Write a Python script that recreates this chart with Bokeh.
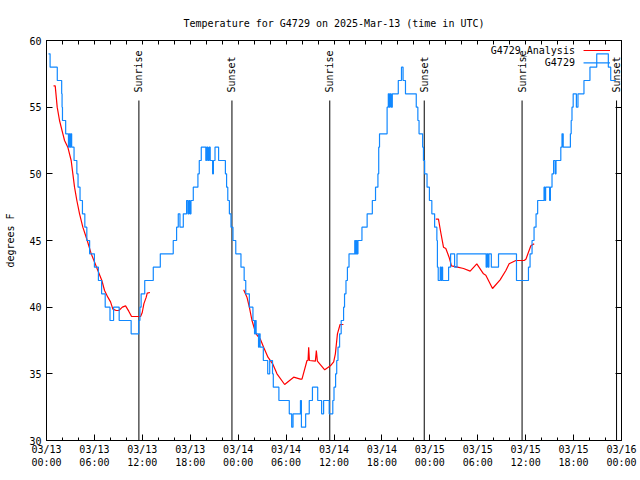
import math
from bokeh.plotting import figure
from bokeh.models import Range1d, FixedTicker, LinearAxis
from bokeh.core.properties import value
from bokeh.embed import file_html
from bokeh.resources import INLINE

TITLE = "Temperature for G4729 on 2025-Mar-13 (time in UTC)"
Y_LABEL = "degrees F"
OBS_NAME = "G4729"
ANA_NAME = "G4729_Analysis"

# x axis: hours since 2025-03-13 00:00 UTC
x_major = [0, 6, 12, 18, 24, 30, 36, 42, 48, 54, 60, 66, 72]
x_labels = ["03/13\n00:00", "03/13\n06:00", "03/13\n12:00", "03/13\n18:00",
            "03/14\n00:00", "03/14\n06:00", "03/14\n12:00", "03/14\n18:00",
            "03/15\n00:00", "03/15\n06:00", "03/15\n12:00", "03/15\n18:00",
            "03/16\n00:00"]
x_minor = [h for h in range(0, 73, 2) if h % 6 != 0]
y_ticks = [30, 35, 40, 45, 50, 55, 60]

sun_names = ["Sunrise", "Sunset", "Sunrise", "Sunset", "Sunrise", "Sunset"]
sun_hours = [11.57, 23.22, 35.47, 47.30, 59.55, 71.38]

# observed temperatures (hour, deg F), value holds until next point
obs_t = [0.25, 0.45, 1.35, 1.9, 1.95, 2.0, 2.4, 2.75, 2.85, 2.95, 3.05, 3.15, 3.45, 3.8, 3.95,
         4.2, 4.5, 4.8, 5.05, 5.4, 6.0, 6.5, 6.9, 7.35, 7.95, 8.4, 9.1, 10.6, 11.55, 11.7,
         11.85, 12.3, 13.37, 14.25, 15.87, 16.29, 16.5, 16.71, 17.13, 17.54, 17.71, 17.84,
         17.96, 18.09, 18.38, 18.96, 19.13, 19.38, 19.95, 20.05, 20.2, 20.35, 20.5, 20.8,
         20.9, 21.1, 21.55, 22.4, 22.55, 22.7, 22.9, 23.1, 23.35, 23.7, 24.35, 24.75, 24.95,
         25.4, 25.85, 26.05, 26.15, 26.25, 26.55, 26.65, 26.75, 27.15, 27.7, 27.95, 28.3,
         28.4, 29.1, 30.4, 30.7, 30.87, 31.8, 31.92, 32.45, 32.9, 33.3, 33.96, 34.45, 34.7,
         35.4, 35.85, 36.0, 36.2, 36.34, 36.5, 36.7, 36.9, 37.2, 37.32, 37.5, 37.68, 37.88,
         38.6, 38.7, 38.8, 38.9, 39.0, 39.5, 40.15, 40.8, 41.2, 41.5, 41.6, 41.7, 42.65,
         42.8, 42.9, 43.0, 43.15, 43.3, 44.05, 44.45, 44.65, 44.95, 46.3, 46.5, 46.65, 47.1,
         47.2, 47.35, 47.65, 47.95, 48.25, 48.6, 48.88, 48.95, 49.05, 49.3, 49.4, 49.5,
         49.6, 50.35, 50.6, 51.1, 51.4, 55.05, 55.15, 55.3, 55.4, 55.7, 56.6, 58.85, 60.35,
         60.55, 60.8, 61.05, 61.3, 61.5, 62.3, 62.4, 62.5, 63.0, 63.1, 63.3, 63.5, 63.7,
         63.8, 64.4, 64.55, 64.7, 65.6, 65.7, 65.8, 65.95, 66.35, 66.55, 67.3, 68.05, 68.9,
         70.35, 70.65, 71.3]
obs_v = [59, 58, 57, 56, 55, 54, 53, 52, 53, 52, 53, 52, 51, 50, 49,
         48, 47, 46, 45, 44, 43, 42, 41, 40, 39, 40, 39, 38, 39, 40,
         41, 42, 43, 44, 45, 46, 47, 46, 47, 48, 47, 48,
         47, 48, 49, 50, 51, 52, 51, 52, 51, 52, 51, 50,
         51, 52, 51, 50, 49, 48, 47, 46, 45, 44, 43, 42, 41,
         40, 39, 38, 39, 38, 37, 38, 37, 36, 35, 36, 35,
         34, 33, 32, 31, 32, 33, 31, 32, 33, 34, 33, 32, 33,
         32, 33, 34, 35, 36, 37, 38, 39, 40, 41, 42, 43, 44,
         45, 44, 45, 44, 45, 46, 47, 48, 49, 50, 52, 53, 55,
         56, 55, 56, 55, 56, 57, 58, 57, 56, 55, 54, 53, 52,
         51, 50, 49, 48, 47, 46, 45, 43, 42, 43, 42, 43,
         42, 43, 44, 43, 44, 43, 44, 43, 44, 43, 44, 42, 43,
         44, 45, 46, 47, 48, 49, 48, 49, 48, 49, 50, 51, 50,
         51, 52, 53, 52, 53, 54, 55, 56, 55, 56, 57, 58, 59,
         58, 57, 57]

# analysis temperatures, three overnight runs (hour, deg F)
ana1_t = [0.88, 1.09, 1.34, 1.63, 2.05, 2.26, 2.67, 3.09, 3.3, 3.51, 3.8, 4.14, 4.55, 5.1,
          5.6, 6.0, 6.43, 6.93, 7.27, 7.68, 8.02, 8.31, 8.73, 9.06, 9.5, 9.9, 10.3, 10.65,
          11.78, 11.99, 12.19, 12.49, 12.61, 12.95]
ana1_v = [56.6, 56.6, 55.0, 54.0, 53.0, 52.5, 52.0, 51.0, 50.0, 49.0, 48.0, 47.0, 46.0, 45.0,
          44.0, 43.4, 42.75, 42.0, 41.25, 40.75, 40.4, 39.85, 39.75, 39.75, 40.0, 40.1, 39.7, 39.3,
          39.3, 39.6, 40.25, 40.75, 41.05, 41.1]
ana2_t = [24.69, 25.1, 25.4, 25.73, 26.23, 26.78, 27.19, 27.73, 28.32, 28.86, 29.82, 30.95,
          31.79, 31.99, 32.62, 32.75, 32.83, 32.92, 33.67, 33.79, 33.92, 34.84, 35.55, 35.96,
          36.17, 36.43, 36.76, 37.18]
ana2_v = [41.3, 40.75, 40.0, 39.0, 38.0, 37.6, 37.0, 36.25, 35.75, 35.0, 34.2, 34.75,
          34.6, 34.6, 36.0, 36.0, 37.0, 36.0, 35.95, 36.75, 35.95, 35.3, 35.6, 35.9,
          36.5, 38.0, 38.7, 38.7]
ana3_t = [48.75, 49.08, 49.37, 49.71, 50.0, 50.41, 50.71, 51.47, 52.22, 53.05, 53.88, 54.72,
          55.01, 55.85, 56.8, 57.52, 57.93, 58.77, 59.81, 60.03, 60.65, 61.07]
ana3_v = [46.6, 46.6, 45.6, 44.5, 44.4, 43.75, 43.1, 43.0, 42.9, 42.7, 43.25, 42.5,
          42.4, 41.4, 42.05, 42.75, 43.25, 43.5, 43.5, 43.6, 44.6, 44.75]

XMIN, XMAX = 0, 72
YMIN, YMAX = 30, 60
FONT = "DejaVu Sans Mono"
FS = "10px"
BLUE = "#1188ff"
RED = "#ff0000"


def gx(f):
    return XMIN + f * (XMAX - XMIN)


def gy(f):
    return YMIN + f * (YMAX - YMIN)


p = figure(width=640, height=480, x_range=Range1d(XMIN, XMAX), y_range=Range1d(YMIN, YMAX),
           output_backend="svg", toolbar_location=None, title=TITLE,
           min_border_left=46, min_border_right=19, min_border_top=40, min_border_bottom=40)
p.background_fill_color = "white"
p.border_fill_color = "white"
p.outline_line_color = "black"
p.xgrid.visible = False
p.ygrid.visible = False

p.title.text_font = FONT
p.title.text_font_size = FS
p.title.text_font_style = "normal"
p.title.align = "center"
p.title.text_color = "black"
p.title.standoff = 23

xt = FixedTicker(ticks=x_major, minor_ticks=x_minor)
yt = FixedTicker(ticks=y_ticks, minor_ticks=[])

xa = p.xaxis[0]
xa.ticker = xt
xa.major_label_overrides = {k: v for k, v in zip(x_major, x_labels)}
xa.major_label_text_font = FONT
xa.major_label_text_font_size = FS
xa.major_label_text_line_height = 1.25
xa.major_label_standoff = 3

ya = p.yaxis[0]
ya.ticker = yt
ya.major_label_text_font = FONT
ya.major_label_text_font_size = FS
ya.major_label_standoff = 5
ya.axis_label = Y_LABEL
ya.axis_label_text_font = FONT
ya.axis_label_text_font_size = FS
ya.axis_label_text_font_style = "normal"
ya.axis_label_standoff = 10

# mirrored tick marks on top and right (no labels: only minor-tick slots used)
top_ax = LinearAxis(ticker=FixedTicker(ticks=[], minor_ticks=x_major + x_minor))
right_ax = LinearAxis(ticker=FixedTicker(ticks=[], minor_ticks=y_ticks))
p.add_layout(top_ax, "above")
p.add_layout(right_ax, "right")

for ax in [xa, ya, top_ax, right_ax]:
    ax.axis_line_color = "black"
    ax.major_tick_line_color = "black"
    ax.minor_tick_line_color = "black"
    ax.major_label_text_color = "black"
    ax.axis_label_text_color = "black"
    ax.major_tick_in = 6
    ax.major_tick_out = 0
    ax.minor_tick_in = 3
    ax.minor_tick_out = 0
top_ax.minor_tick_in = 4
right_ax.minor_tick_in = 6

# sunrise / sunset markers
p.segment(x0=sun_hours, y0=[gy(0.0)] * len(sun_hours), x1=sun_hours,
          y1=[gy(0.85)] * len(sun_hours), line_color="black", line_width=1)
p.text(x=sun_hours, y=[gy(0.87)] * len(sun_hours), text=sun_names, angle=math.pi / 2,
       text_font=value(FONT), text_font_size=FS, text_align="left",
       text_baseline="middle", text_color="black")

# analysis first, observations over it
p.multi_line(xs=[ana1_t, ana2_t, ana3_t], ys=[ana1_v, ana2_v, ana3_v],
             line_color=RED, line_width=1.2)
p.step(x=obs_t, y=obs_v, mode="after", line_color=BLUE, line_width=1.2)

# key (top right, text then sample line)
p.text(x=[gx(0.919)] * 2, y=[gy(0.975), gy(0.944)], text=[ANA_NAME, OBS_NAME],
       text_font=value(FONT), text_font_size=FS, text_align="right",
       text_baseline="middle", text_color="black")
p.segment(x0=[gx(0.934)] * 2, y0=[gy(0.975), gy(0.944)], x1=[gx(0.980)] * 2,
          y1=[gy(0.975), gy(0.944)], line_color=[RED, BLUE], line_width=1.2)

open("out.html", "w").write(file_html(p, INLINE))
